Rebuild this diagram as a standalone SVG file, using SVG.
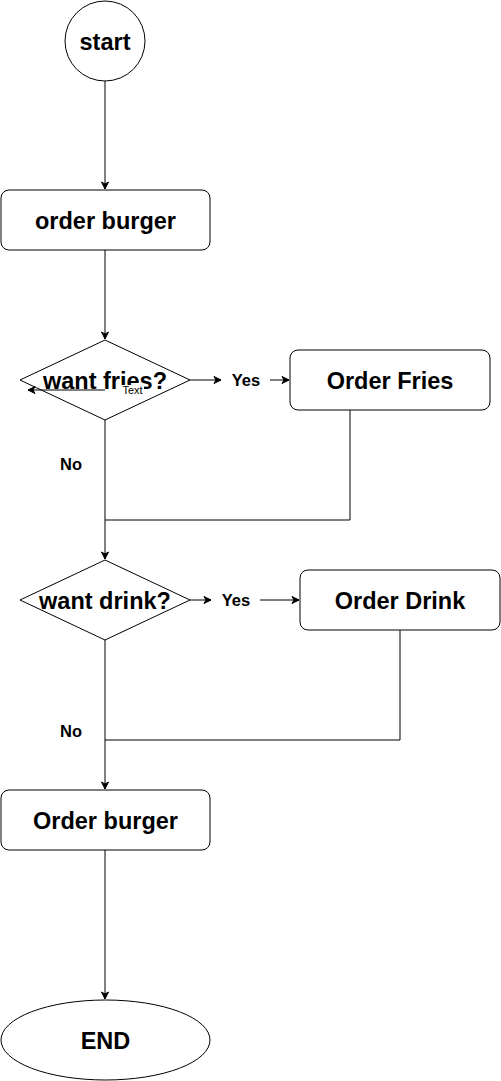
<svg xmlns="http://www.w3.org/2000/svg" width="501" height="1081" viewBox="0 0 501 1081">
<defs>
<marker id="arr" markerWidth="10" markerHeight="10" refX="8" refY="5" orient="auto" markerUnits="userSpaceOnUse">
<path d="M1,1.5 L8,5 L1,8.5 L3,5 Z" fill="#000" stroke="#000" stroke-width="1"/>
</marker>
<style>
.shape{fill:#fff;stroke:#000;stroke-width:1}
.edge{fill:none;stroke:#000;stroke-width:1}
.t{font-family:"Liberation Sans",Arial,sans-serif;font-weight:bold;font-size:23.5px;text-anchor:middle;fill:#000}
.lbl{font-family:"Liberation Sans",Arial,sans-serif;font-weight:bold;font-size:16.5px;text-anchor:middle;fill:#000}
.small{font-family:"Liberation Sans",Arial,sans-serif;font-size:11px;text-anchor:middle;fill:#000}
</style>
</defs>
<rect width="501" height="1081" fill="#fff"/>
<g id="connectors">
<path class="edge" d="M105,81 V189" marker-end="url(#arr)"/>
<path class="edge" d="M105,250 V339" marker-end="url(#arr)"/>
<path class="edge" d="M190,380 H221" marker-end="url(#arr)"/>
<path class="edge" d="M270,380 H289" marker-end="url(#arr)"/>
<path class="edge" d="M105,420 V559" marker-end="url(#arr)"/>
<path class="edge" d="M350,410 V520 H105"/>
<path class="edge" d="M190,600 H211" marker-end="url(#arr)"/>
<path class="edge" d="M260,600 H299" marker-end="url(#arr)"/>
<path class="edge" d="M105,640 V789" marker-end="url(#arr)"/>
<path class="edge" d="M400,630 V740 H105"/>
<path class="edge" d="M105,850 V999" marker-end="url(#arr)"/>
<text class="lbl" x="246" y="386">Yes</text>
<text class="lbl" x="236" y="606">Yes</text>
<text class="lbl" x="71" y="470">No</text>
<text class="lbl" x="71" y="737">No</text>
</g>
<g id="start">
<circle class="shape" cx="105" cy="41" r="40"/>
<text class="t" x="105" y="49.5">start</text>
</g>
<g id="order-burger-1">
<rect class="shape" x="1" y="190" width="209" height="60" rx="8"/>
<text class="t" x="105.5" y="228.5">order burger</text>
</g>
<g id="want-fries">
<path class="shape" d="M105,340 L190,380 L105,420 L20,380 Z"/>
<text class="t" x="105" y="388.5">want fries?</text>
<g id="stray-edge">
<path class="edge" d="M105,390 H28" marker-end="url(#arr)"/>
<rect x="121" y="385" width="23" height="11" fill="#fff"/>
<text class="small" x="132.5" y="394">Text</text>
</g>
</g>
<g id="order-fries">
<rect class="shape" x="290" y="350" width="200" height="60" rx="8"/>
<text class="t" x="390" y="388.5">Order Fries</text>
</g>
<g id="want-drink">
<path class="shape" d="M105,560 L190,600 L105,640 L20,600 Z"/>
<text class="t" x="105" y="608.5">want drink?</text>
</g>
<g id="order-drink">
<rect class="shape" x="300" y="570" width="200" height="60" rx="8"/>
<text class="t" x="400" y="608.5">Order Drink</text>
</g>
<g id="order-burger-2">
<rect class="shape" x="1" y="790" width="209" height="60" rx="8"/>
<text class="t" x="105.5" y="828.5">Order burger</text>
</g>
<g id="end">
<ellipse class="shape" cx="105.5" cy="1040" rx="104.5" ry="40"/>
<text class="t" x="105.5" y="1048.5">END</text>
</g>
</svg>
